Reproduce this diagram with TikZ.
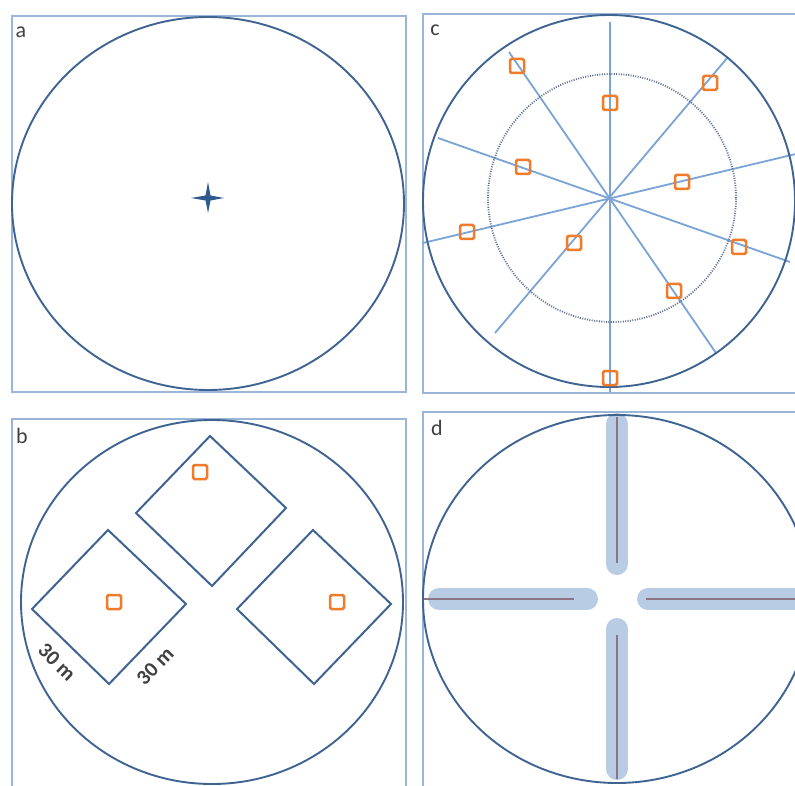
\documentclass[tikz,border=0pt]{standalone}
\usepackage{fontspec}
\setmainfont{Carlito}
\definecolor{framec}{HTML}{9AB5D8}
\definecolor{circc}{HTML}{3F6491}
\definecolor{spokec}{HTML}{7AA3D6}
\definecolor{orangec}{HTML}{EF7B2B}
\definecolor{barc}{HTML}{B8CCE4}
\definecolor{innerc}{HTML}{8D7384}
\definecolor{dotc}{HTML}{5B6F8F}
\definecolor{starc}{HTML}{2E5A8E}
\definecolor{txtc}{HTML}{404040}
\begin{document}
\begin{tikzpicture}[x=1pt,y=-1pt,
  panelframe/.style={draw=framec,line width=2pt},
  bigcirc/.style={draw=circc,line width=1.9pt},
  spoke/.style={draw=spokec,line width=1.8pt},
  plot/.style={draw=orangec,line width=2.5pt,rounded corners=1.5pt},
  diam/.style={draw=circc,line width=2pt,line join=miter},
  bar/.style={draw=barc,line width=22pt,line cap=round},
  inner/.style={draw=innerc,line width=2.2pt},
  plabel/.style={text=txtc,font=\fontsize{22}{24}\selectfont,inner sep=0pt},
  mlabel/.style={text=txtc,font=\fontsize{21}{23}\selectfont\bfseries,inner sep=0pt}]
\useasboundingbox (0,0) rectangle (795,786);
\clip (0,0) rectangle (795,786);
\fill[white] (0,0) rectangle (795,786);

% ---------- panel a ----------
\draw[panelframe] (12,16) rectangle (406,392);
\draw[bigcirc] (208,203.5) ellipse [x radius=196pt, y radius=186.5pt];
\fill[starc] (191,198) -- (205.5,195.5) -- (208,182) -- (210.5,195.5) -- (224,198)
  -- (210.5,200.5) -- (208,213) -- (205.5,200.5) -- cycle;
\node[plabel] (la) at (21,32) {a};

% ---------- panel c ----------
\draw[panelframe] (423,14) rectangle (805,393);
\draw[spoke] (610,22) -- (610,392);
\draw[spoke] (509,52) -- (716,353);
\draw[spoke] (728,57) -- (495,333);
\draw[spoke] (438,138) -- (790,262);
\draw[spoke] (423,243) -- (800,153);
\draw[dotc,line width=1.8pt,dash pattern=on 1pt off 1.4pt] (612,198) circle [radius=124pt];
\draw[bigcirc] (609,201) circle [radius=186pt];
\foreach \px/\py in {517/66,710/83,610/103,523/167,682/182,467/232,574/243,739/247,674/291,610/378}
  \draw[plot] (\px-7,\py-7) rectangle (\px+7,\py+7);
\node[plabel] (lc) at (435,30) {c};

% ---------- panel b ----------
\draw[panelframe] (12,419) rectangle (406,805);
\draw[bigcirc] (212,602) ellipse [x radius=191pt, y radius=182pt];
\draw[diam] (108,530) -- (186,604) -- (109,684) -- (32,609) -- cycle;
\draw[diam] (210,436) -- (286,508) -- (212,586) -- (136,513) -- cycle;
\draw[diam] (313,530) -- (391,604) -- (314,684) -- (237,609) -- cycle;
\draw[plot] (193,465) rectangle (207,479);
\draw[plot] (107,595) rectangle (121,609);
\draw[plot] (330,595) rectangle (344,609);
\node[mlabel,rotate=-44] (m1) at (57,662) {30 m};
\node[mlabel,rotate=46] (m2) at (155,666) {30 m};
\node[plabel] (lb) at (22,436) {b};

% ---------- panel d ----------
\draw[panelframe] (423,412) rectangle (805,805);
\draw[bar] (617,424) -- (617,564);
\draw[bar] (439,599) -- (587,599);
\draw[bar] (648,599) -- (820,599);
\draw[bar] (617,629) -- (617,769);
\draw[inner] (617,417) -- (617,563);
\draw[inner] (423,599) -- (574,599);
\draw[inner] (646,599) -- (820,599);
\draw[inner] (617,635) -- (617,779);
\draw[bigcirc] (617,599) ellipse [x radius=194pt, y radius=184pt];
\node[plabel] (ld) at (437,428) {d};
\end{tikzpicture}
\end{document}
